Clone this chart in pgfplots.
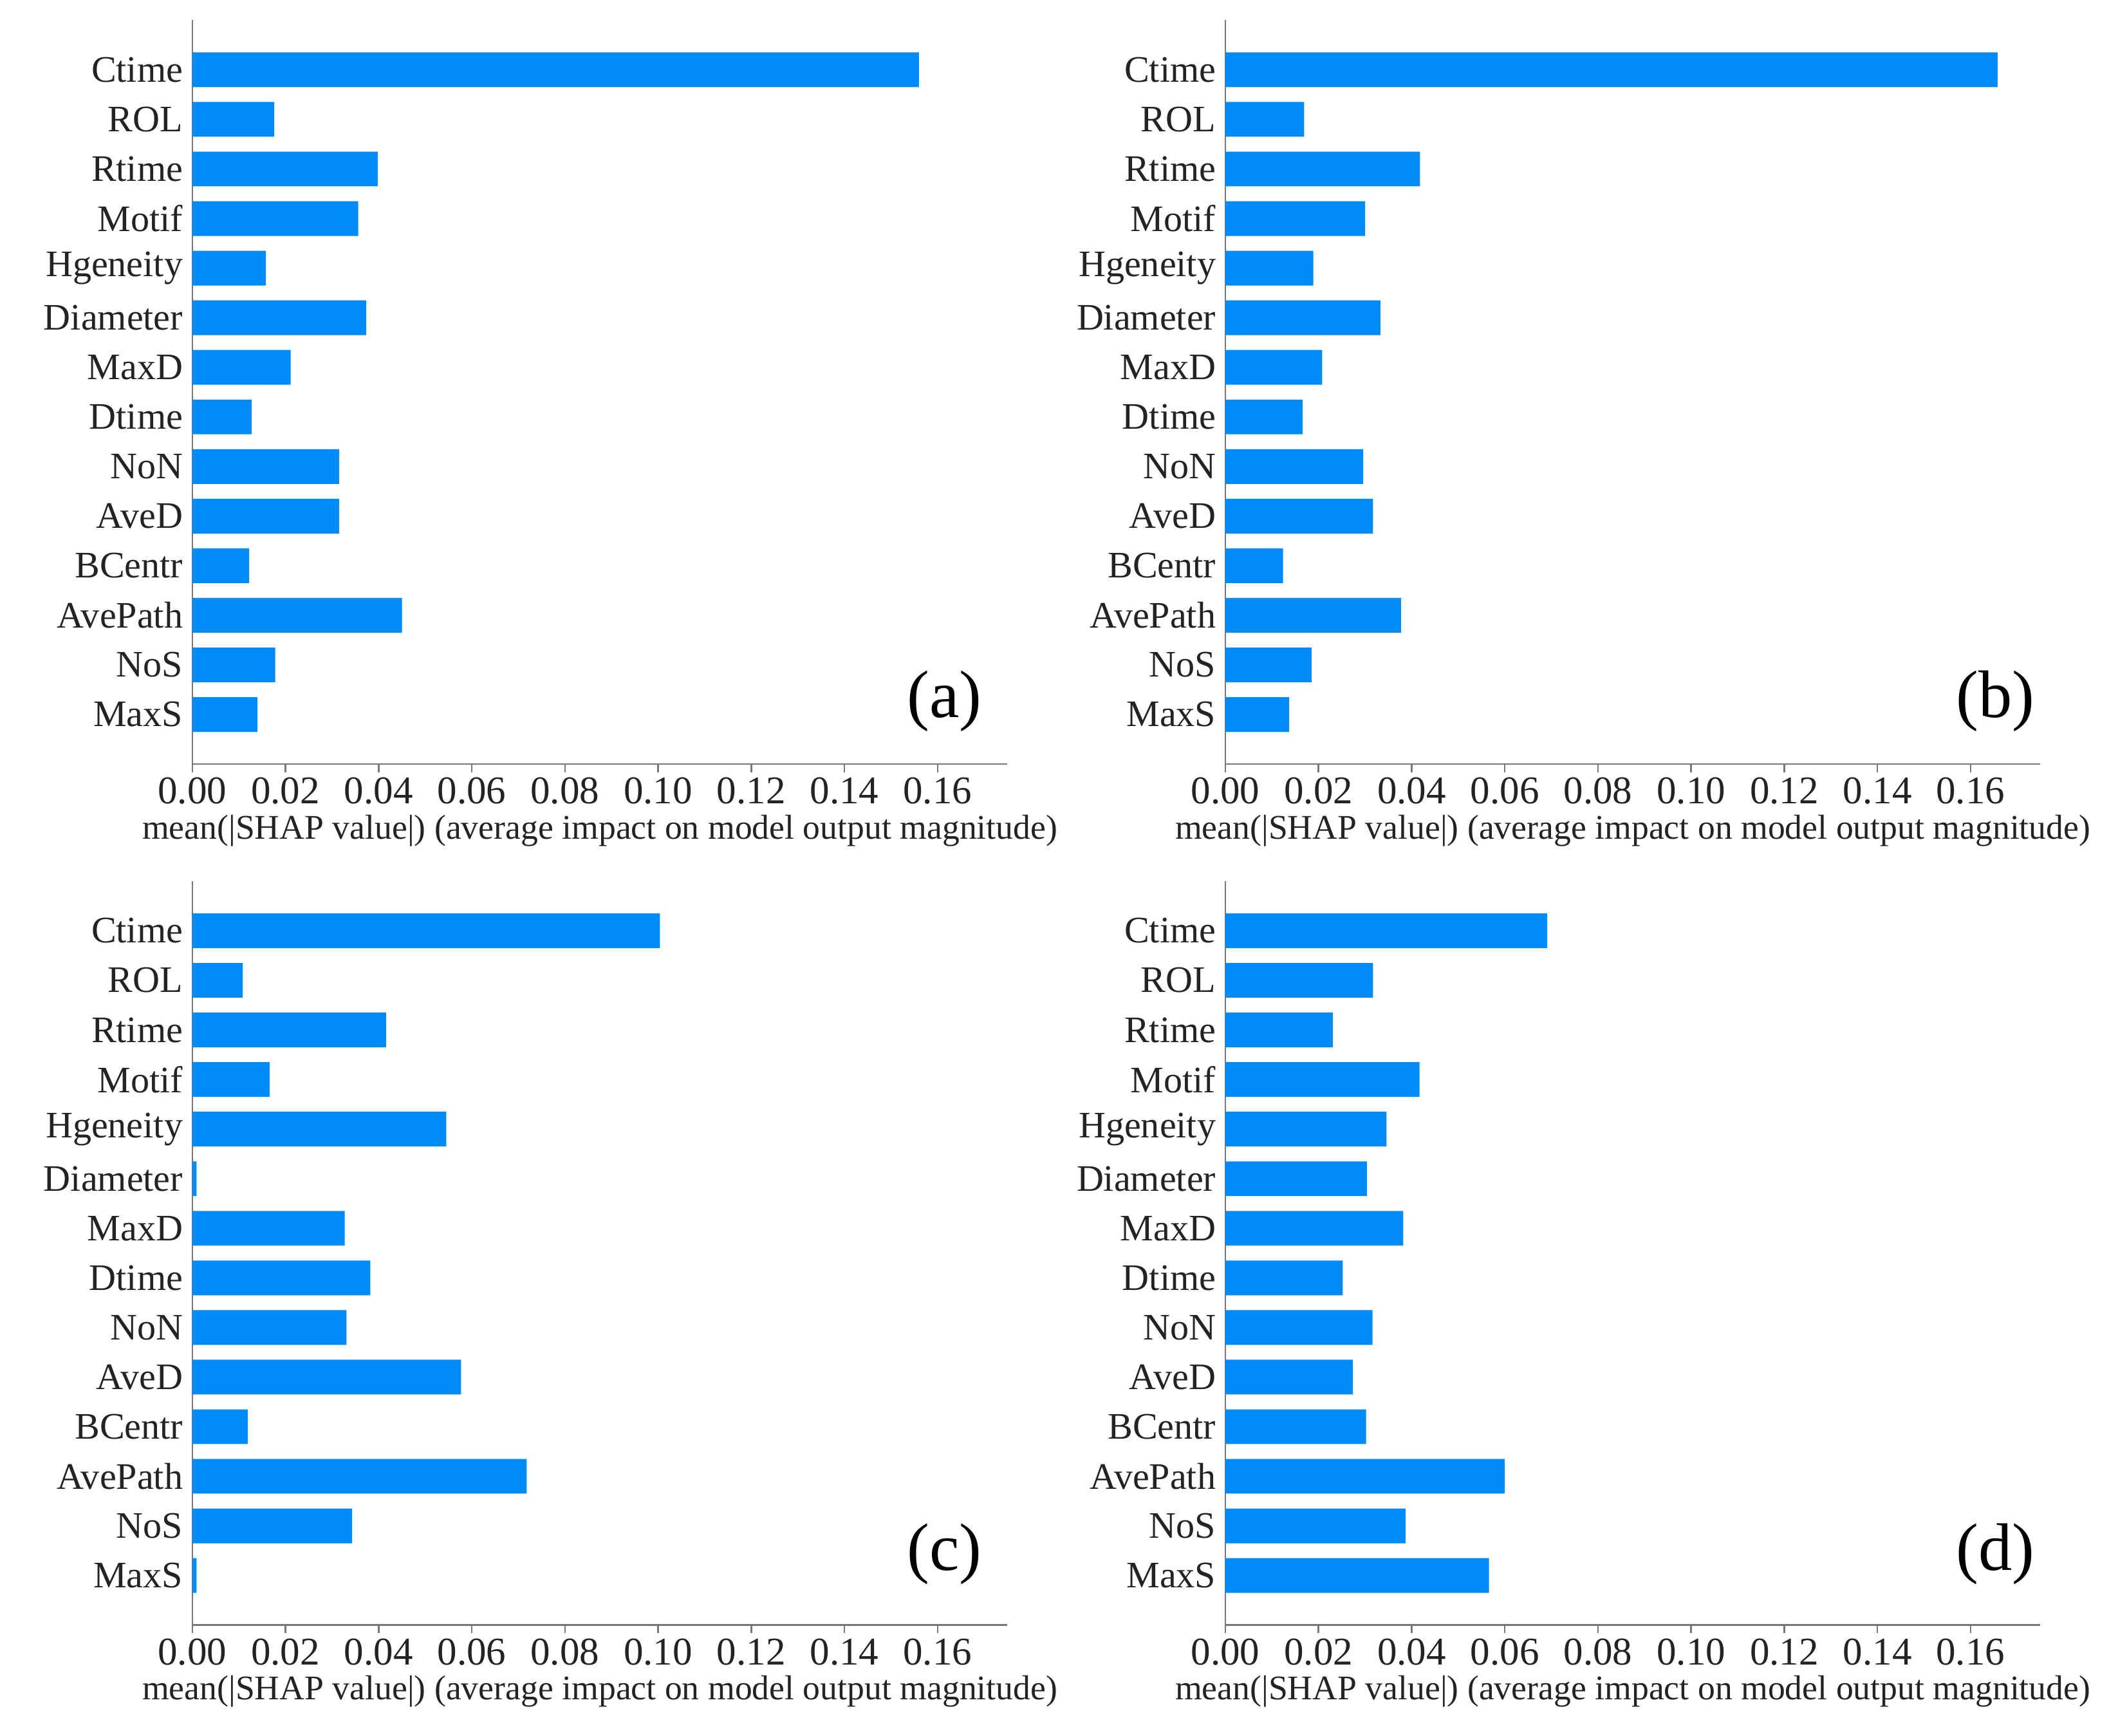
\documentclass[border=0pt]{standalone}
\usepackage{fontspec}
\setmainfont{Liberation Serif}
\usepackage{pgfplots}
\pgfplotsset{compat=1.18}
\usepackage{pgfplotstable}

\definecolor{shapblue}{RGB}{0,139,251}
\definecolor{spine}{RGB}{120,120,120}
\definecolor{txt}{RGB}{35,35,35}

% pos 13 = Ctime ... 0 = MaxS
\pgfplotstableread{
pos a      b      c      d
13  0.1560 0.1658 0.1004 0.0691
12  0.0176 0.0169 0.0108 0.0317
11  0.0398 0.0418 0.0416 0.0231
10  0.0356 0.0300 0.0166 0.0417
9   0.0158 0.0189 0.0545 0.0346
8   0.0373 0.0333 0.0009 0.0304
7   0.0211 0.0208 0.0327 0.0382
6   0.0127 0.0166 0.0382 0.0252
5   0.0315 0.0296 0.0331 0.0316
4   0.0315 0.0317 0.0577 0.0274
3   0.0122 0.0124 0.0119 0.0302
2   0.0450 0.0377 0.0718 0.0600
1   0.0178 0.0185 0.0343 0.0387
0   0.0140 0.0137 0.0009 0.0566
}\shapdata

\pgfplotsset{
  shap/.style={
    scale only axis, width=303pt, height=276.5pt,
    xmin=0, xmax=0.175, ymin=-1, ymax=14,
    axis x line*=bottom, axis y line*=left,
    axis line style={draw=spine, line width=0.6pt, -},
    xtick={0,0.02,0.04,0.06,0.08,0.10,0.12,0.14,0.16},
    scaled x ticks=false,
    /pgf/number format/.cd, fixed, fixed zerofill, precision=2, assume math mode=true,
    /pgfplots/.cd,
    ytick={0,...,13},
    yticklabels={MaxS,NoS,AvePath,BCentr,AveD,NoN,Dtime,MaxD,Diameter,Hgeneity,Motif,Rtime,ROL,Ctime},
    y tick style={draw=none},
    x tick style={draw=spine, line width=0.6pt},
    tick align=outside, major tick length=3pt,
    ticklabel style={font=\fontsize{13.9}{16}\selectfont, text=txt},
    xticklabel style={font=\fontsize{14.6}{16}\selectfont, yshift=1.5pt},
    yticklabel style={xshift=3pt},
    xlabel={mean(|SHAP value|) (average impact on model output magnitude)},
    xlabel style={font=\fontsize{12.85}{15}\selectfont, text=txt, yshift=3pt},
    anchor=south west,
  },
  shapbar/.style={xbar, bar width=0.7, fill=shapblue, draw=none},
}
\tikzset{tag/.style={anchor=east, font=\fontsize{25}{30}\selectfont}}

\begin{document}
\begin{tikzpicture}
\useasboundingbox (0,0) rectangle (784pt,-645pt);

\begin{axis}[shap, at={(71.5pt,-284pt)}]
\addplot[shapbar] table[x=a, y=pos]{\shapdata};
\node[tag] at (axis cs:0.1715,0.27) {(a)};
\end{axis}

\begin{axis}[shap, at={(455.5pt,-284pt)}]
\addplot[shapbar] table[x=b, y=pos]{\shapdata};
\node[tag] at (axis cs:0.1758,0.27) {(b)};
\end{axis}

\begin{axis}[shap, at={(71.5pt,-604pt)}]
\addplot[shapbar] table[x=c, y=pos]{\shapdata};
\node[tag] at (axis cs:0.1715,0.43) {(c)};
\end{axis}

\begin{axis}[shap, at={(455.5pt,-604pt)}]
\addplot[shapbar] table[x=d, y=pos]{\shapdata};
\node[tag] at (axis cs:0.1758,0.43) {(d)};
\end{axis}
\end{tikzpicture}
\end{document}
